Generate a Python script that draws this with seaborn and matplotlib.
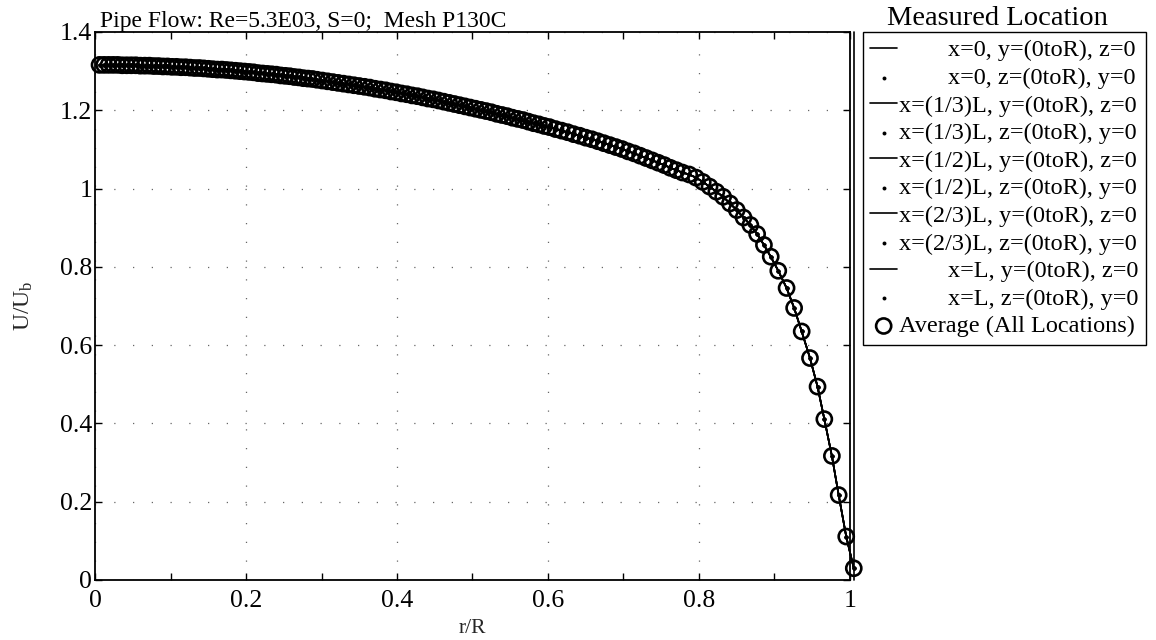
import numpy as np
import pandas as pd
import matplotlib
matplotlib.use("Agg")
import matplotlib.pyplot as plt
import seaborn as sns

# ---------------- data ----------------
title_text = "Pipe Flow: Re=5.3E03, S=0;  Mesh P130C"
x_label = "r/R"
y_label = r"U/U$_\mathrm{b}$"
legend_title = "Measured Location"

r_avg = [
    0.006, 0.012, 0.018, 0.024, 0.030, 0.036, 0.042, 0.048, 0.054, 0.060,
    0.066, 0.072, 0.078, 0.084, 0.090, 0.096, 0.102, 0.108, 0.114, 0.120,
    0.126, 0.132, 0.138, 0.144, 0.150, 0.156, 0.162, 0.168, 0.174, 0.180,
    0.186, 0.192, 0.198, 0.204, 0.210, 0.216, 0.222, 0.228, 0.234, 0.240,
    0.246, 0.252, 0.258, 0.264, 0.270, 0.276, 0.282, 0.288, 0.294,
    0.301, 0.308, 0.315, 0.322, 0.329, 0.336, 0.343, 0.350, 0.357, 0.364,
    0.371, 0.378, 0.385, 0.392, 0.399, 0.406, 0.413, 0.420, 0.427, 0.434,
    0.441, 0.448, 0.455, 0.462, 0.469, 0.476, 0.483, 0.490, 0.497, 0.504,
    0.511, 0.518, 0.525, 0.532, 0.539, 0.546, 0.553, 0.560, 0.567, 0.574,
    0.581, 0.588, 0.595, 0.602,
    0.610, 0.618, 0.626, 0.634, 0.642, 0.650, 0.658, 0.666, 0.674, 0.682,
    0.690, 0.698, 0.706, 0.714, 0.722, 0.730, 0.738, 0.746, 0.754, 0.762,
    0.770, 0.778,
    0.787, 0.796, 0.805, 0.814, 0.823, 0.832, 0.841, 0.850, 0.859, 0.868,
    0.877, 0.886, 0.895, 0.905, 0.916, 0.926, 0.936, 0.947, 0.957, 0.966,
    0.976, 0.985, 0.995, 1.005,
]
u_avg = [
    1.316, 1.316, 1.316, 1.316, 1.316, 1.315, 1.315, 1.315, 1.315, 1.314,
    1.314, 1.314, 1.313, 1.313, 1.312, 1.312, 1.311, 1.311, 1.310, 1.310,
    1.309, 1.308, 1.308, 1.307, 1.306, 1.305, 1.304, 1.304, 1.303, 1.302,
    1.301, 1.300, 1.299, 1.298, 1.297, 1.295, 1.294, 1.293, 1.292, 1.291,
    1.289, 1.288, 1.287, 1.285, 1.284, 1.282, 1.281, 1.280, 1.278,
    1.276, 1.274, 1.272, 1.270, 1.268, 1.266, 1.264, 1.262, 1.260, 1.258,
    1.255, 1.253, 1.251, 1.248, 1.246, 1.243, 1.241, 1.238, 1.236, 1.233,
    1.230, 1.228, 1.225, 1.222, 1.219, 1.216, 1.213, 1.210, 1.207, 1.204,
    1.201, 1.198, 1.195, 1.191, 1.188, 1.185, 1.181, 1.178, 1.175, 1.171,
    1.167, 1.164, 1.160, 1.157,
    1.152, 1.148, 1.144, 1.139, 1.135, 1.130, 1.126, 1.121, 1.116, 1.111,
    1.106, 1.101, 1.095, 1.090, 1.084, 1.078, 1.072, 1.066, 1.060, 1.053,
    1.047, 1.041,
    1.036, 1.028, 1.017, 1.005, 0.992, 0.979, 0.962, 0.945, 0.926, 0.907,
    0.884, 0.856, 0.826, 0.790, 0.746, 0.695, 0.635, 0.567, 0.494, 0.411,
    0.317, 0.217, 0.111, 0.030,
]

# measured profiles at each location (visually coincide with the average)
location_labels = [
    "x=0, y=(0toR), z=0",
    "x=0, z=(0toR), y=0",
    "x=(1/3)L, y=(0toR), z=0",
    "x=(1/3)L, z=(0toR), y=0",
    "x=(1/2)L, y=(0toR), z=0",
    "x=(1/2)L, z=(0toR), y=0",
    "x=(2/3)L, y=(0toR), z=0",
    "x=(2/3)L, z=(0toR), y=0",
    "x=L, y=(0toR), z=0",
    "x=L, z=(0toR), y=0",
]
avg_label = "Average (All Locations)"

x_ticks = [0, 0.2, 0.4, 0.6, 0.8, 1.0]
x_ticklabels = ["0", "0.2", "0.4", "0.6", "0.8", "1"]
x_minor = [0.1, 0.3, 0.5, 0.7, 0.9]
y_ticks = [0, 0.2, 0.4, 0.6, 0.8, 1.0, 1.2, 1.4]
y_ticklabels = ["0", "0.2", "0.4", "0.6", "0.8", "1", "1.2", "1.4"]

# ---------------- style ----------------
sns.set_theme(style="ticks")
serif = ["Liberation Serif", "DejaVu Serif"]
plt.rcParams["font.family"] = serif
plt.rcParams["mathtext.fontset"] = "custom"
plt.rcParams["mathtext.rm"] = "Liberation Serif"
plt.rcParams["mathtext.it"] = "Liberation Serif:italic"
plt.rcParams["axes.edgecolor"] = "black"
plt.rcParams["text.color"] = "black"
plt.rcParams["xtick.color"] = "black"
plt.rcParams["ytick.color"] = "black"

fig = plt.figure(figsize=(11.56, 6.40), dpi=100)
ax = fig.add_axes([95 / 1156, 1 - 580 / 640, (850 - 95) / 1156, (580 - 32) / 640])

df = pd.DataFrame({"r": r_avg, "u": u_avg})

for i, lab in enumerate(location_labels):
    if i % 2 == 0:
        sns.lineplot(data=df, x="r", y="u", ax=ax, color="black", lw=1.2,
                     estimator=None, sort=False, label=lab, clip_on=False)
    else:
        sns.scatterplot(data=df, x="r", y="u", ax=ax, color="black", s=8,
                        marker="o", edgecolor="black", linewidth=0,
                        label=lab, clip_on=False)
sns.scatterplot(data=df, x="r", y="u", ax=ax, marker="o", s=118,
                facecolors="none", edgecolor="black", linewidth=1.9,
                label=avg_label, clip_on=False, zorder=3)

ax.set_xlim(0, 1)
ax.set_ylim(0, 1.4)
ax.set_xticks(x_ticks)
ax.set_xticklabels(x_ticklabels)
ax.set_xticks(x_minor, minor=True)
ax.set_yticks(y_ticks)
ax.set_yticklabels(y_ticklabels)
ax.tick_params(which="both", direction="in", top=True, right=True,
               length=5, width=1.0, labelsize=18.5, pad=2)
ax.tick_params(axis="x", pad=7)
for s in ax.spines.values():
    s.set_linewidth(1.3)
    s.set_color("black")
ax.axvline(1.005, color="black", lw=1.2, clip_on=False)

ax.grid(True, which="major", linestyle=(0, (1, 14)), color="0.4", lw=0.9)

ax.set_xlabel(x_label, fontsize=15.5, labelpad=5)
ax.set_ylabel(y_label, fontsize=17, labelpad=18)
ax.set_title(title_text, loc="left", fontsize=17, pad=1, x=0.006)

h, l = ax.get_legend_handles_labels()
leg = ax.legend(h, l, loc="upper left",
                bbox_to_anchor=(863 / 1156, 1 - 32 / 640),
                bbox_transform=fig.transFigure, borderaxespad=0,
                fontsize=17.5, frameon=True, fancybox=False,
                edgecolor="black", framealpha=1, handlelength=1.1,
                handletextpad=0.1, labelspacing=0.23, borderpad=0.3,
                scatterpoints=1)
leg.get_frame().set_linewidth(1.0)

# right-align the legend labels by padding with leading spaces
fig.canvas.draw()
rend = fig.canvas.get_renderer()
texts = leg.get_texts()
widths = [t.get_window_extent(rend).width for t in texts]
tmp = fig.text(0, 0, "a a", fontsize=17.5)
w1 = tmp.get_window_extent(rend).width
tmp.set_text("aa")
w2 = tmp.get_window_extent(rend).width
tmp.remove()
sw = max(w1 - w2, 1.0)
wmax = max(widths)
for t, w in zip(texts, widths):
    n = int(round((wmax - w) / sw))
    t.set_text(" " * n + t.get_text())

fig.canvas.draw()
bb = leg.get_window_extent(rend).transformed(fig.transFigure.inverted())
fig.text((bb.x0 + bb.x1) / 2 - 0.006, bb.y1 + 0.002, legend_title, ha="center",
         va="bottom", fontsize=20.5)

fig.savefig("out.png", dpi=100)
